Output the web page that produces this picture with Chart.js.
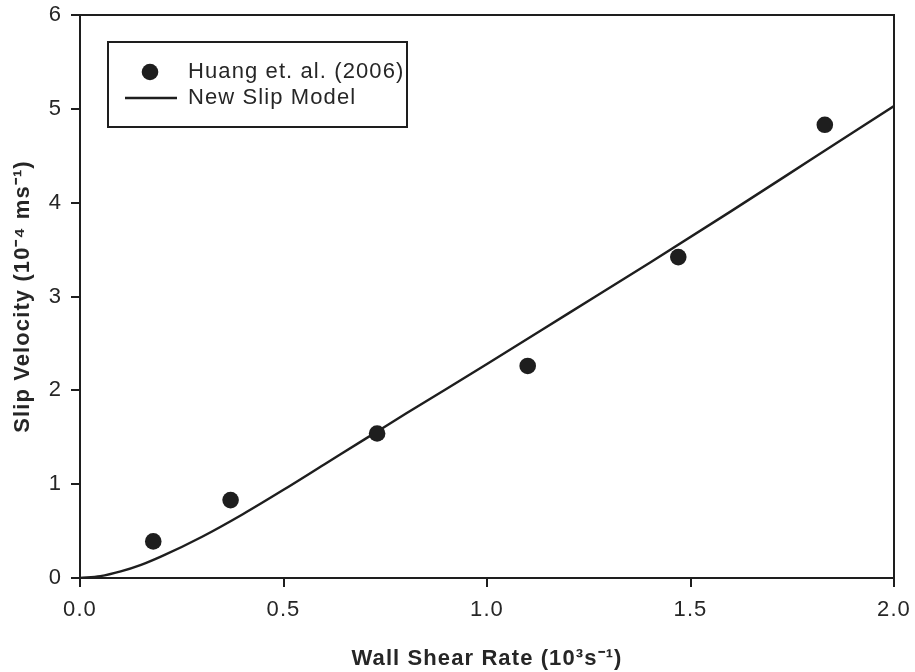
<!DOCTYPE html>
<html>
<head>
<meta charset="utf-8">
<script src="https://cdn.jsdelivr.net/npm/chart.js@4/dist/chart.umd.min.js"></script>
<style>
  html, body { margin: 0; padding: 0; background: #ffffff; }
  canvas { display: block; }
</style>
</head>
<body>
<canvas id="chart" width="915" height="672"></canvas>
<script>
// Measured slip velocity, Huang et al. (2006)
const huangShearRate   = [0.18, 0.37, 0.73, 1.10, 1.47, 1.83];   // 10^3 s^-1
const huangSlipVel     = [0.39, 0.83, 1.54, 2.26, 3.42, 4.83];   // 10^-4 m/s

// New slip model curve
const modelShearRate   = [0, 0.05, 0.10, 0.15, 0.20, 0.30, 0.40, 0.50, 0.60, 0.70, 0.80, 1.00, 1.20, 1.40, 1.60, 1.80, 2.00];
const modelSlipVel     = [0, 0.02, 0.07, 0.14, 0.23, 0.44, 0.68, 0.94, 1.21, 1.48, 1.75, 2.28, 2.82, 3.36, 3.91, 4.47, 5.03];

// Axis tick values
const xTickValues = [0, 0.5, 1.0, 1.5, 2.0];
const yTickValues = [0, 1, 2, 3, 4, 5, 6];

const seriesNames = ['Huang et. al. (2006)', 'New Slip Model'];
const xTitle = 'Wall Shear Rate (10\u00B3s\u207B\u00B9)';
const yTitle = 'Slip Velocity (10\u207B\u2074 ms\u207B\u00B9)';

const INK = '#1e1e1e';
const TEXT = '#262626';
const FONT = "'Liberation Sans', Arial, Helvetica, sans-serif";
const TRACK = '1.1px';

const toXY = (xs, ys) => xs.map((x, i) => ({ x: x, y: ys[i] }));

// Slightly tracked lettering for every text drawn on the canvas
const tracking = {
  id: 'tracking',
  beforeLayout(chart) { chart.ctx.letterSpacing = TRACK; },
  beforeDraw(chart) { chart.ctx.letterSpacing = TRACK; }
};

// Closed frame: top and right edges of the plot box
const frame = {
  id: 'frame',
  afterDraw(chart) {
    const { ctx, chartArea: a } = chart;
    ctx.save();
    ctx.strokeStyle = INK;
    ctx.lineWidth = 2;
    ctx.beginPath();
    ctx.moveTo(a.left, a.top);
    ctx.lineTo(a.right, a.top);
    ctx.lineTo(a.right, a.bottom);
    ctx.stroke();
    ctx.restore();
  }
};

// Boxed legend inside the plot area
const boxedLegend = {
  id: 'boxedLegend',
  afterDraw(chart) {
    const { ctx, chartArea: a } = chart;
    const ds = chart.data.datasets;
    const bx = a.left + 28, by = a.top + 27, bw = 299, bh = 85;
    ctx.save();
    ctx.letterSpacing = TRACK;
    ctx.fillStyle = '#ffffff';
    ctx.fillRect(bx, by, bw, bh);
    ctx.strokeStyle = INK;
    ctx.lineWidth = 2;
    ctx.strokeRect(bx, by, bw, bh);

    const row1 = by + 30, row2 = by + 56;
    // marker
    ctx.fillStyle = ds[0].backgroundColor;
    ctx.beginPath();
    ctx.arc(bx + 42, row1, ds[0].pointRadius, 0, Math.PI * 2);
    ctx.fill();
    // line sample
    ctx.strokeStyle = ds[1].borderColor;
    ctx.lineWidth = ds[1].borderWidth;
    ctx.beginPath();
    ctx.moveTo(bx + 17, row2);
    ctx.lineTo(bx + 69, row2);
    ctx.stroke();
    // labels
    ctx.fillStyle = TEXT;
    ctx.font = '22px ' + FONT;
    ctx.textAlign = 'left';
    ctx.textBaseline = 'middle';
    ctx.fillText(ds[0].label, bx + 80, row1);
    ctx.fillText(ds[1].label, bx + 80, row2);
    ctx.restore();
  }
};

new Chart(document.getElementById('chart'), {
  type: 'scatter',
  data: {
    datasets: [
      {
        label: seriesNames[0],
        data: toXY(huangShearRate, huangSlipVel),
        pointRadius: 8.3,
        pointHoverRadius: 8.3,
        backgroundColor: INK,
        borderWidth: 0,
        showLine: false,
        order: 0
      },
      {
        type: 'line',
        label: seriesNames[1],
        data: toXY(modelShearRate, modelSlipVel),
        borderColor: INK,
        borderWidth: 2.4,
        pointRadius: 0,
        fill: false,
        cubicInterpolationMode: 'monotone',
        order: 1
      }
    ]
  },
  options: {
    responsive: false,
    animation: false,
    devicePixelRatio: 1,
    layout: { padding: { left: 0, right: 21, top: 15, bottom: 0 } },
    plugins: {
      legend: { display: false },
      tooltip: { enabled: false }
    },
    scales: {
      x: {
        type: 'linear',
        min: 0,
        max: 2,
        afterBuildTicks: s => { s.ticks = xTickValues.map(v => ({ value: v })); },
        afterFit: s => { s.height = 94; s.paddingLeft = 0; s.paddingRight = 0; },
        ticks: {
          callback: v => Number(v).toFixed(1),
          font: { family: FONT, size: 22 },
          color: TEXT,
          padding: 10,
          maxRotation: 0,
          autoSkip: false
        },
        grid: { drawOnChartArea: false, tickLength: 9, color: INK, lineWidth: 2 },
        border: { color: INK, width: 2 },
        title: {
          display: true,
          text: xTitle,
          font: { family: FONT, size: 22, weight: 'bold' },
          color: TEXT,
          padding: { top: 0, bottom: 0 }
        }
      },
      y: {
        type: 'linear',
        min: 0,
        max: 6,
        afterBuildTicks: s => { s.ticks = yTickValues.map(v => ({ value: v })); },
        afterFit: s => { s.width = 80; s.paddingTop = 0; s.paddingBottom = 0; },
        ticks: {
          font: { family: FONT, size: 22 },
          color: TEXT,
          padding: 9,
          autoSkip: false
        },
        grid: { drawOnChartArea: false, tickLength: 9, color: INK, lineWidth: 2 },
        border: { color: INK, width: 2 },
        title: {
          display: true,
          text: yTitle,
          font: { family: FONT, size: 22, weight: 'bold' },
          color: TEXT,
          padding: { top: 10, bottom: 0 }
        }
      }
    }
  },
  plugins: [tracking, frame, boxedLegend]
});
</script>
</body>
</html>
